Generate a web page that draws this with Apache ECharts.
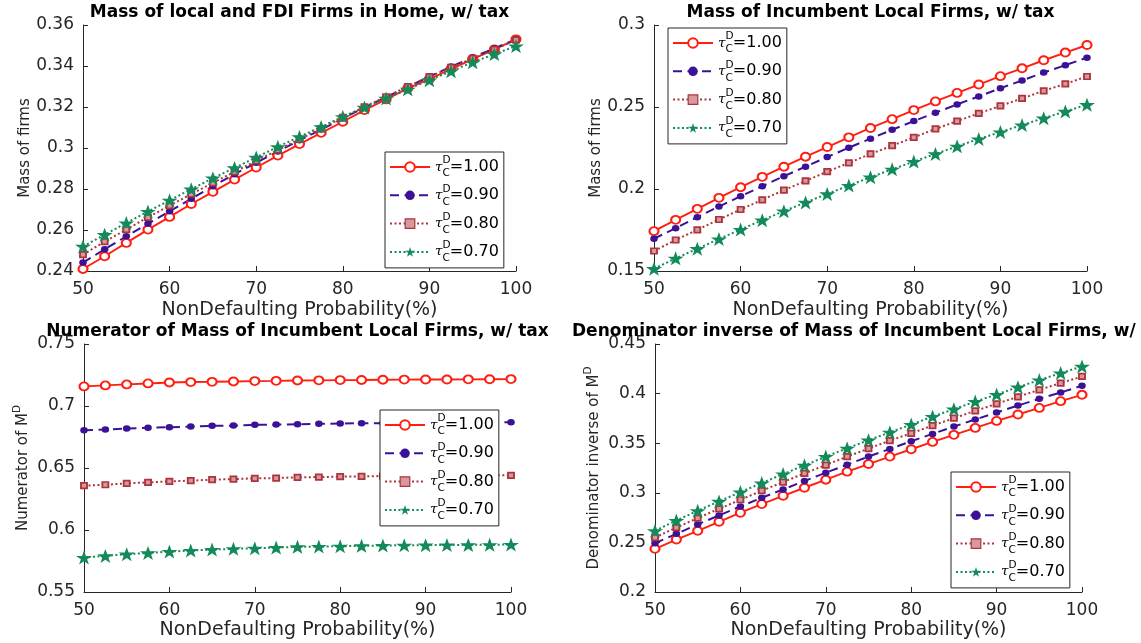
<!DOCTYPE html>
<html>
<head>
<meta charset="utf-8">
<script src="https://cdn.jsdelivr.net/npm/echarts/dist/echarts.min.js"></script>
<style>
  html, body { margin: 0; padding: 0; background: #fff; }
  #main { width: 1141px; height: 643px; }
</style>
</head>
<body>
<div id="main"></div>
<script>
// x values: non-defaulting probability (%)
const probs = [50, 52.5, 55, 57.5, 60, 62.5, 65, 67.5, 70, 72.5, 75, 77.5, 80, 82.5, 85, 87.5, 90, 92.5, 95, 97.5, 100];
const taus = ['1.00', '0.90', '0.80', '0.70'];

// panel 1: mass of local and FDI firms in home
const homeT100 = [0.2410, 0.2472, 0.2537, 0.2602, 0.2664, 0.2727, 0.2786, 0.2846, 0.2905, 0.2963, 0.3019, 0.3074, 0.3128, 0.3185, 0.3237, 0.3291, 0.3336, 0.3385, 0.3434, 0.3481, 0.3530];
const homeT090 = [0.2441, 0.2506, 0.2569, 0.2631, 0.2691, 0.2752, 0.2814, 0.2872, 0.2928, 0.2983, 0.3038, 0.3090, 0.3144, 0.3198, 0.3248, 0.3299, 0.3348, 0.3397, 0.3442, 0.3486, 0.3530];
const homeT080 = [0.2480, 0.2543, 0.2602, 0.2662, 0.2719, 0.2775, 0.2830, 0.2884, 0.2937, 0.2990, 0.3042, 0.3095, 0.3149, 0.3201, 0.3250, 0.3299, 0.3348, 0.3393, 0.3437, 0.3481, 0.3527];
const homeT070 = [0.2520, 0.2577, 0.2634, 0.2690, 0.2745, 0.2799, 0.2853, 0.2903, 0.2954, 0.3006, 0.3055, 0.3103, 0.3152, 0.3198, 0.3242, 0.3286, 0.3331, 0.3375, 0.3418, 0.3458, 0.3497];

// panel 2: mass of incumbent local firms
const incT100 = [0.1743, 0.1812, 0.1879, 0.1946, 0.2011, 0.2074, 0.2136, 0.2197, 0.2256, 0.2315, 0.2372, 0.2426, 0.2481, 0.2534, 0.2586, 0.2637, 0.2688, 0.2736, 0.2785, 0.2832, 0.2878];
const incT090 = [0.1697, 0.1761, 0.1828, 0.1893, 0.1956, 0.2017, 0.2078, 0.2136, 0.2195, 0.2252, 0.2307, 0.2361, 0.2414, 0.2465, 0.2516, 0.2564, 0.2615, 0.2661, 0.2710, 0.2755, 0.2801];
const incT080 = [0.1622, 0.1689, 0.1751, 0.1814, 0.1875, 0.1934, 0.1993, 0.2049, 0.2106, 0.2159, 0.2214, 0.2264, 0.2315, 0.2366, 0.2414, 0.2461, 0.2507, 0.2552, 0.2599, 0.2641, 0.2686];
const incT070 = [0.1514, 0.1577, 0.1636, 0.1695, 0.1753, 0.1810, 0.1865, 0.1918, 0.1970, 0.2021, 0.2072, 0.2120, 0.2167, 0.2214, 0.2260, 0.2305, 0.2347, 0.2390, 0.2432, 0.2473, 0.2514];

// panel 3: numerator of M^D
const numT100 = [0.7158, 0.7166, 0.7174, 0.7182, 0.7190, 0.7193, 0.7195, 0.7198, 0.7201, 0.7203, 0.7206, 0.7207, 0.7209, 0.7210, 0.7212, 0.7213, 0.7214, 0.7214, 0.7215, 0.7216, 0.7217];
const numT090 = [0.6805, 0.6810, 0.6818, 0.6824, 0.6829, 0.6834, 0.6840, 0.6842, 0.6848, 0.6850, 0.6853, 0.6856, 0.6858, 0.6861, 0.6861, 0.6864, 0.6864, 0.6866, 0.6866, 0.6868, 0.6869];
const numT080 = [0.6357, 0.6365, 0.6376, 0.6384, 0.6392, 0.6398, 0.6406, 0.6411, 0.6416, 0.6419, 0.6425, 0.6427, 0.6430, 0.6433, 0.6435, 0.6437, 0.6438, 0.6439, 0.6440, 0.6441, 0.6441];
const numT070 = [0.5778, 0.5791, 0.5805, 0.5815, 0.5826, 0.5834, 0.5842, 0.5848, 0.5853, 0.5858, 0.5864, 0.5867, 0.5869, 0.5872, 0.5875, 0.5877, 0.5878, 0.5879, 0.5880, 0.5881, 0.5883];

// panel 4: denominator inverse of M^D
const denT100 = [0.2435, 0.2529, 0.2617, 0.2708, 0.2799, 0.2886, 0.2970, 0.3051, 0.3132, 0.3213, 0.3290, 0.3365, 0.3439, 0.3513, 0.3584, 0.3654, 0.3725, 0.3789, 0.3856, 0.3924, 0.3988];
const denT090 = [0.2492, 0.2586, 0.2681, 0.2772, 0.2863, 0.2950, 0.3034, 0.3119, 0.3203, 0.3284, 0.3365, 0.3442, 0.3520, 0.3594, 0.3668, 0.3739, 0.3809, 0.3880, 0.3947, 0.4011, 0.4079];
const denT080 = [0.2549, 0.2650, 0.2745, 0.2839, 0.2930, 0.3021, 0.3108, 0.3196, 0.3280, 0.3365, 0.3445, 0.3526, 0.3600, 0.3678, 0.3752, 0.3826, 0.3897, 0.3968, 0.4038, 0.4106, 0.4173];
const denT070 = [0.2617, 0.2721, 0.2819, 0.2913, 0.3007, 0.3098, 0.3189, 0.3277, 0.3365, 0.3449, 0.3530, 0.3610, 0.3688, 0.3769, 0.3843, 0.3920, 0.3991, 0.4065, 0.4136, 0.4207, 0.4274];

const xTicks = [50, 100, 10];  // min, max, step

const FONT = 'DejaVu Sans';
const AXIS = '#262626';
const star = 'path://M50,0 L61.8,35.1 L98.1,35.1 L68.8,56.7 L79.4,91 L50,70 L20.6,91 L31.2,56.7 L1.9,35.1 L38.2,35.1 Z';

// line / marker look per tau
const looks = [
  { color: '#ff1e10', symbol: 'emptyCircle', size: [9, 8], dash: 'solid', width: 1.9, item: { color: '#ff1e10', borderWidth: 1.6 } },
  { color: '#3b1296', symbol: 'circle', size: [7.5, 6.5], dash: [9, 5.5], width: 2, item: { color: '#3b1296' } },
  { color: '#ad343c', symbol: 'rect', size: [6, 5.5], dash: [2, 2.5], width: 2, item: { color: '#d49a9d', borderColor: '#ad343c', borderWidth: 1.8 } },
  { color: '#138a5a', symbol: star, size: [16, 14], dash: [2, 2.5], width: 2, item: { color: '#138a5a' } }
];

const panels = [
  { grid: { left: 83, top: 25, width: 433, height: 246 }, y: [0.24, 0.36, 0.02], data: [homeT100, homeT090, homeT080, homeT070],
    title: 'Mass of local and FDI Firms in Home, w/ tax', titleX: 299.5, titleY: 4, titleAlign: 'center',
    yName: 'Mass of firms', legend: { left: 385, top: 152 }, xGap: 30 },
  { grid: { left: 654, top: 25, width: 433, height: 246 }, y: [0.15, 0.3, 0.05], data: [incT100, incT090, incT080, incT070],
    title: 'Mass of Incumbent Local Firms, w/ tax', titleX: 870.5, titleY: 4, titleAlign: 'center',
    yName: 'Mass of firms', legend: { left: 668, top: 28 }, xGap: 30 },
  { grid: { left: 84, top: 344, width: 427, height: 248 }, y: [0.55, 0.75, 0.05], data: [numT100, numT090, numT080, numT070],
    title: 'Numerator of Mass of Incumbent Local Firms, w/ tax', titleX: 297.5, titleY: 323, titleAlign: 'center',
    yName: '{a|Numerator of M}{s|D}', legend: { left: 380, top: 410 }, xGap: 29 },
  { grid: { left: 655, top: 344, width: 427, height: 248 }, y: [0.2, 0.45, 0.05], data: [denT100, denT090, denT080, denT070],
    title: 'Denominator inverse of Mass of Incumbent Local Firms, w/', titleX: 572, titleY: 323, titleAlign: 'left',
    yName: '{a|Denominator inverse of M}{s|D}', legend: { left: 951, top: 472 }, xGap: 29 }
];

const grids = [], xAxes = [], yAxes = [], titles = [], legends = [], series = [];

panels.forEach(function (p, i) {
  grids.push(Object.assign({ outerBoundsMode: 'none', containLabel: false }, p.grid));

  titles.push({
    text: p.title, left: p.titleX, top: p.titleY, textAlign: p.titleAlign, padding: 0,
    textStyle: { fontFamily: FONT, fontSize: 17, fontWeight: 'bold', color: '#000' }
  });

  xAxes.push({
    type: 'value', gridIndex: i, min: xTicks[0], max: xTicks[1], interval: xTicks[2],
    name: 'NonDefaulting Probability(%)', nameLocation: 'middle', nameGap: p.xGap, nameMoveOverlap: false,
    nameTextStyle: { fontFamily: FONT, fontSize: 19, color: AXIS },
    axisLine: { show: true, onZero: false, lineStyle: { color: AXIS, width: 1 } },
    axisTick: { show: true, inside: true, length: 5, lineStyle: { color: AXIS } },
    axisLabel: { fontFamily: FONT, fontSize: 17, color: AXIS, margin: 10 },
    splitLine: { show: false }
  });

  yAxes.push({
    type: 'value', gridIndex: i, min: p.y[0], max: p.y[1], interval: p.y[2],
    name: p.yName, nameLocation: 'middle', nameGap: 50, nameRotate: 90, nameMoveOverlap: false,
    nameTextStyle: {
      fontFamily: FONT, fontSize: 15, color: AXIS,
      rich: {
        a: { fontFamily: FONT, fontSize: 15, color: AXIS, lineHeight: 22 },
        s: { fontFamily: FONT, fontSize: 10.5, color: AXIS, verticalAlign: 'top' }
      }
    },
    axisLine: { show: true, onZero: false, lineStyle: { color: AXIS, width: 1 } },
    axisTick: { show: true, inside: true, length: 5, lineStyle: { color: AXIS } },
    axisLabel: { fontFamily: FONT, fontSize: 17, color: AXIS, margin: 9 },
    splitLine: { show: false }
  });

  legends.push({
    orient: 'vertical', left: p.legend.left, top: p.legend.top,
    data: [
      { name: taus[0] },
      { name: taus[1] },
      { name: taus[2], itemStyle: { borderWidth: 1.2 } },
      { name: taus[3] }
    ],
    selectedMode: false,
    itemWidth: 40, itemHeight: 12, itemGap: 4.3, padding: [3, 5, 4, 4],
    borderColor: AXIS, borderWidth: 1, backgroundColor: '#fff',
    formatter: function (n) { return '{t|τ}{d|D}{c|C}{v|=' + n + '}'; },
    textStyle: {
      color: '#000',
      rich: {
        t: { fontFamily: 'DejaVu Serif', fontStyle: 'italic', fontSize: 13.5, color: '#000', lineHeight: 24 },
        d: { fontFamily: FONT, fontSize: 10.5, color: '#000', width: 0, verticalAlign: 'top' },
        c: { fontFamily: FONT, fontSize: 10.5, color: '#000', verticalAlign: 'bottom' },
        v: { fontFamily: FONT, fontSize: 16, color: '#000', lineHeight: 24 }
      }
    }
  });

  p.data.forEach(function (vals, j) {
    const lk = looks[j];
    series.push({
      type: 'line', name: taus[j], xAxisIndex: i, yAxisIndex: i,
      data: probs.map(function (x, k) { return [x, vals[k]]; }),
      symbol: lk.symbol, symbolSize: lk.size, showAllSymbol: true, clip: false,
      lineStyle: { color: lk.color, width: lk.width, type: lk.dash },
      itemStyle: lk.item,
      color: lk.color
    });
  });
});

const chart = echarts.init(document.getElementById('main'), null, { renderer: 'canvas' });
chart.setOption({
  animation: false,
  backgroundColor: '#fff',
  title: titles,
  legend: legends,
  grid: grids,
  xAxis: xAxes,
  yAxis: yAxes,
  series: series
});
</script>
</body>
</html>
